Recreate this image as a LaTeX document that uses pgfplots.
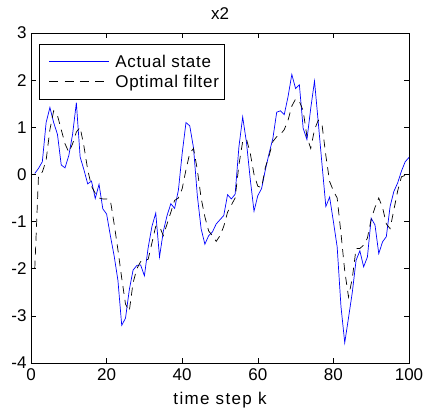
\documentclass[border=0pt]{standalone}
\usepackage{pgfplots}
\pgfplotsset{compat=1.18}
\usepackage{fontspec}
\setmainfont{Liberation Sans}
\newfontfamily\legfont[LetterSpace=4]{Liberation Sans}
\newfontfamily\labfont[LetterSpace=8]{Liberation Sans}
\definecolor{pureblue}{RGB}{0,0,255}
\begin{document}
\begin{tikzpicture}
\begin{axis}[
  scale only axis,
  width=378bp, height=330bp,
  xmin=0, xmax=100, ymin=-4, ymax=3,
  xtick={0,20,40,60,80,100},
  ytick={-4,-3,-2,-1,0,1,2,3},
  tick align=inside,
  major tick length=5bp,
  axis line style={line width=0.8bp},
  every tick/.style={black, line width=0.6bp},
  tick label style={font=\fontsize{17bp}{19bp}\selectfont},
  /pgf/number format/assume math mode=true,
  xticklabel style={yshift=-2bp},
  yticklabel style={xshift=-1bp},
  title={x2},
  title style={font=\fontsize{17bp}{19bp}\selectfont, yshift=4bp},
  xlabel={\labfont time step k},
  xlabel style={font=\fontsize{17bp}{19bp}\selectfont, yshift=-5bp},
  legend style={at={(rel axis cs:0.021,0.967)}, anchor=north west,
    font=\fontsize{17bp}{19bp}\legfont, draw=black, line width=0.9bp,
    inner xsep=4bp, inner ysep=8.5bp, row sep=2.3bp, legend cell align=left},
]
\addplot[pureblue, line width=0.7bp,
  legend image code/.code={%
    \pgfpathmoveto{\pgfpoint{0bp}{0bp}}\pgfpathlineto{\pgfpoint{70bp}{0bp}}\pgfusepath{}%
    \pgfsetstrokecolor{pureblue}\pgfsetlinewidth{0.8bp}\pgfsetdash{}{0bp}%
    \pgfpathmoveto{\pgfpoint{6bp}{0bp}}\pgfpathlineto{\pgfpoint{66bp}{0bp}}\pgfusepath{stroke}}] table {
1 0.02
2 0.13
3 0.27
4 1.1
5 1.42
6 1.1
7 0.85
8 0.2
9 0.14
10 0.4
11 0.85
12 1.52
13 0.37
14 0.1
15 -0.2
16 -0.14
17 -0.51
18 -0.21
19 -0.73
20 -0.84
21 -1.3
22 -1.73
23 -2.25
24 -3.2
25 -3.05
26 -2.45
27 -2.03
28 -1.93
29 -1.92
30 -2.15
31 -1.55
32 -1.1
33 -0.82
34 -1.75
35 -1.21
36 -0.87
37 -0.62
38 -0.72
39 -0.33
40 0.45
41 1.1
42 1.03
43 0.56
44 -0.45
45 -1.15
46 -1.48
47 -1.3
48 -1.22
49 -1.05
50 -0.96
51 -0.87
52 -0.43
53 -0.52
54 -0.42
55 0.58
56 1.22
57 0.68
58 -0.1
59 -0.78
60 -0.45
61 -0.3
62 0.1
63 0.45
64 0.77
65 1.32
66 1.35
67 1.27
68 1.65
69 2.12
70 1.82
71 1.9
72 0.98
73 0.74
74 1.4
75 1.98
76 1.1
77 0.2
78 -0.68
79 -0.48
80 -1.0
81 -1.54
82 -2.8
83 -3.57
84 -3.04
85 -2.5
86 -1.82
87 -1.62
88 -1.96
89 -1.75
90 -0.93
91 -1.07
92 -1.68
93 -1.43
94 -1.32
95 -0.68
96 -0.36
97 -0.18
98 0.07
99 0.27
100 0.36
};
\addlegendentry{Actual state}
\addplot[black, line width=0.7bp, dash pattern=on 8bp off 6bp,
  legend image code/.code={%
    \pgfpathmoveto{\pgfpoint{0bp}{0bp}}\pgfpathlineto{\pgfpoint{70bp}{0bp}}\pgfusepath{}%
    \pgfsetstrokecolor{black}\pgfsetlinewidth{0.7bp}\pgfsetdash{{9bp}{6.3bp}}{0bp}%
    \pgfpathmoveto{\pgfpoint{6bp}{0bp}}\pgfpathlineto{\pgfpoint{66bp}{0bp}}\pgfusepath{stroke}}] table {
1 -2.0
2 0.0
3 0.05
4 0.3
5 0.95
6 1.35
7 1.25
8 0.95
9 0.65
10 0.47
11 0.65
12 0.9
13 1.0
14 0.6
15 0.1
16 -0.25
17 -0.4
18 -0.5
19 -0.52
20 -0.52
21 -0.55
22 -1.05
23 -1.6
24 -2.2
25 -2.75
26 -2.9
27 -2.3
28 -2.0
29 -1.85
30 -1.82
31 -1.8
32 -1.45
33 -1.1
34 -1.1
35 -1.3
36 -1.05
37 -0.8
38 -0.55
39 -0.5
40 -0.3
41 0.1
42 0.45
43 0.55
44 0.1
45 -0.5
46 -0.9
47 -1.2
48 -1.3
49 -1.42
50 -1.3
51 -1.1
52 -0.8
53 -0.65
54 -0.5
55 0.2
56 0.7
57 0.75
58 0.45
59 0.0
60 -0.25
61 -0.28
62 0.15
63 0.4
64 0.7
65 0.8
66 0.85
67 0.95
68 1.15
69 1.45
70 1.6
71 1.55
72 1.35
73 0.8
74 0.55
75 0.95
76 1.15
77 1.05
78 0.4
79 -0.15
80 -0.35
81 -0.5
82 -1.25
83 -2.05
84 -2.6
85 -2.2
86 -1.57
87 -1.57
88 -1.5
89 -1.35
90 -0.95
91 -0.7
92 -0.5
93 -0.7
94 -1.05
95 -1.15
96 -0.75
97 -0.35
98 -0.05
99 -0.02
100 -0.04
};
\addlegendentry{Optimal filter}
\end{axis}
\pgfresetboundingbox
\path[use as bounding box] (-31bp,-51bp) rectangle (393bp,363bp);
\end{tikzpicture}
\end{document}
